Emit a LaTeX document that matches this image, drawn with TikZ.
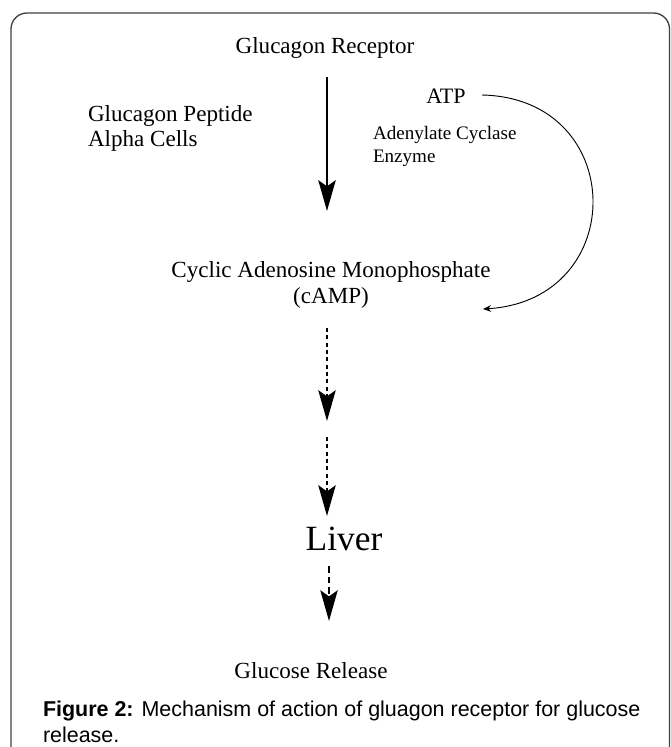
\documentclass[tikz,border=0pt]{standalone}
\usepackage{fontspec}
\setmainfont{Liberation Serif}
\newfontfamily\capfont{Liberation Sans}
\usetikzlibrary{arrows.meta,positioning}

\begin{document}
\begin{tikzpicture}[
    x=0.75pt, y=-0.75pt,
    txt/.style={inner sep=0pt, outer sep=0pt, font=\fontsize{17.3}{18.75}\selectfont},
    small/.style={inner sep=0pt, outer sep=0pt, font=\fontsize{14.3}{17.25}\selectfont},
    big/.style={inner sep=0pt, outer sep=0pt, font=\fontsize{26.6}{30}\selectfont},
    capt/.style={inner sep=0pt, outer sep=0pt, align=left, font=\capfont\fontsize{16.1}{19.5}\selectfont},
    frame/.style={draw=black!75, line width=1pt, rounded corners=12pt},
    mainarrow/.style={line width=2pt, -{Stealth[length=23pt, width=13pt, inset=4.5pt]}},
    dasharrow/.style={line width=1.8pt, dash pattern=on 3pt off 2.5pt, -{Stealth[length=23pt, width=13pt, inset=4.5pt]}},
    looparrow/.style={line width=0.7pt, -{Stealth[length=6pt, width=5pt]}}
]
\useasboundingbox (0,0) rectangle (671,747);
\clip (0,0) rectangle (671,747);

% Outer frame (open at the bottom)
\draw[frame] (11,13) rectangle (669.5,780);

% Labels
\node[txt, anchor=base] (receptor) at (325,53) {Glucagon Receptor};
\node[txt, anchor=north west, align=left] (peptide) at (88,105.3) {Glucagon Peptide\\Alpha Cells};
\node[txt, anchor=base, font=\fontsize{16.5}{18}\selectfont] (atp) at (446,103) {ATP};
\node[small, anchor=north west, align=left] (cyclase) at (373,126) {Adenylate Cyclase\\Enzyme};
\node[txt, anchor=north, align=center, font=\fontsize{17.3}{19.5}\selectfont] (camp) at (331,261.3) {Cyclic Adenosine Monophosphate\\(cAMP)};
\node[big, anchor=base] (liver) at (344,550) {Liver};
\node[txt, anchor=base] (release) at (311,678) {Glucose Release};
\node[capt, anchor=north west] (caption) at (43,700.6) {\textbf{Figure 2:} Mechanism of action of gluagon receptor for glucose\\release.};

% Arrow end points
\coordinate (s1) at (327,77);
\coordinate (e1) at (327,211);
\coordinate (s2) at (327,328);
\coordinate (e2) at (327,421);
\coordinate (s3) at (327,437);
\coordinate (e3) at (327,516);
\coordinate (s4) at (329,566);
\coordinate (e4) at (329,621);
\coordinate (cs) at (482,95);
\coordinate (ce) at (483,309);

% Main flow arrows
\draw[mainarrow] (s1) -- (e1);
\draw[dasharrow] (s2) -- (e2);
\draw[dasharrow] (s3) -- (e3);
\draw[dasharrow, line width=1.3pt, dash pattern=on 5pt off 3pt] (s4) -- (e4);

% ATP loop
\draw[looparrow] (cs) .. controls (628,98) and (630,300) .. (ce);

\end{tikzpicture}
\end{document}
